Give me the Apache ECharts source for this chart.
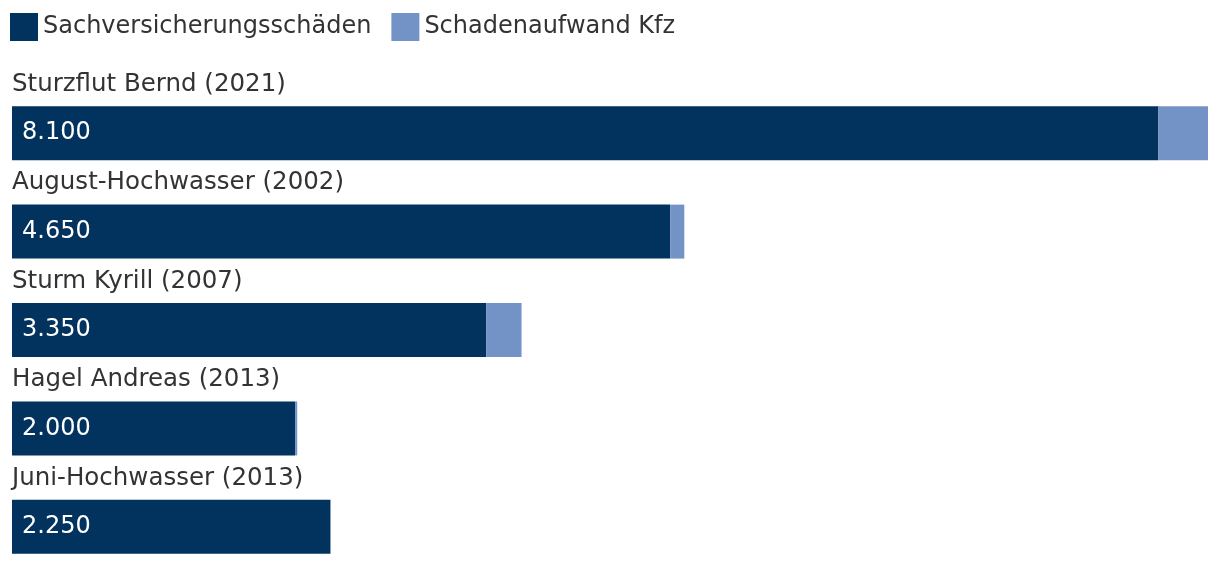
<!DOCTYPE html>
<html><head><meta charset="utf-8">
<script src="https://cdn.jsdelivr.net/npm/echarts@6/dist/echarts.min.js"></script>
<style>html,body{margin:0;padding:0;background:#fff;overflow:hidden}#c{width:1220px;height:600px}</style>
</head><body><div id="c"></div>
<script>
const categories = ['Sturzflut Bernd (2021)', 'August-Hochwasser (2002)', 'Sturm Kyrill (2007)', 'Hagel Andreas (2013)', 'Juni-Hochwasser (2013)'];
const sachValues = [8100, 4650, 3350, 2000, 2250];
const kfzValues = [350, 100, 250, 15, 0];
const seriesNames = ['Sachversicherungsschäden', 'Schadenaufwand Kfz'];

const maxTotal = Math.max(...sachValues.map((v, i) => v + kfzValues[i]));
const fmt = v => String(v).replace(/\B(?=(\d{3})+(?!\d))/g, '.');
const FONT = 'DejaVu Sans';

const chart = echarts.init(document.getElementById('c'));
chart.setOption({
  animation: false,
  textStyle: { fontFamily: FONT },
  legend: {
    left: 5, top: 8, itemWidth: 28, itemHeight: 28, itemGap: 20,
    icon: 'rect',
    textStyle: { fontFamily: FONT, fontSize: 24, color: '#333' },
    data: seriesNames
  },
  grid: { left: 12, right: 12, top: 84, height: 492, containLabel: false },
  xAxis: { type: 'value', min: 0, max: maxTotal, show: false },
  yAxis: {
    type: 'category', data: categories, inverse: true,
    axisLine: { show: false }, axisTick: { show: false }, splitLine: { show: false },
    axisLabel: {
      inside: true, align: 'left', verticalAlign: 'bottom', margin: 0,
      padding: [0, 0, 36, 0],
      fontFamily: FONT, fontSize: 24.5, color: '#333'
    }
  },
  series: [
    {
      name: seriesNames[0], type: 'bar', stack: 'a', barWidth: 54,
      itemStyle: { color: '#01335E' },
      label: { show: true, position: 'insideLeft', distance: 10, color: '#fff', fontFamily: FONT, fontSize: 24, formatter: p => fmt(p.value) },
      data: sachValues
    },
    {
      name: seriesNames[1], type: 'bar', stack: 'a', barWidth: 54,
      itemStyle: { color: '#7393C7' },
      data: kfzValues
    }
  ]
});
</script></body></html>
